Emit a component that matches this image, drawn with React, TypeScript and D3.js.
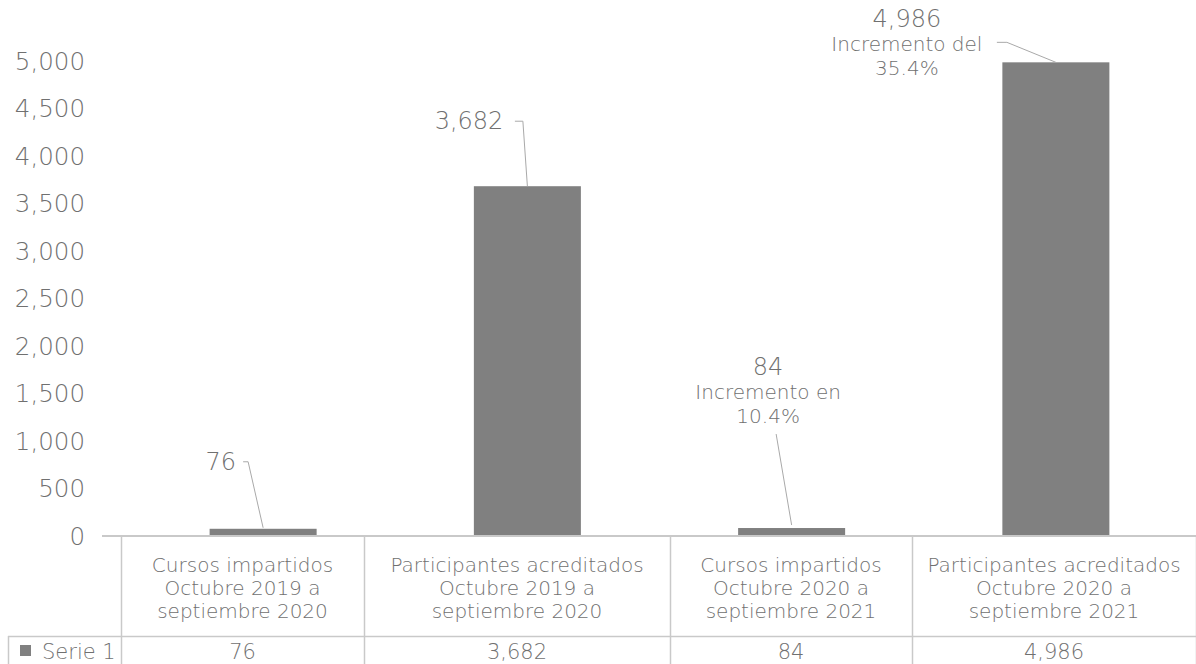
import React from "react";
import * as d3 from "d3";

const categories: string[][] = [
  ["Cursos impartidos", "Octubre 2019 a", "septiembre 2020"],
  ["Participantes acreditados", "Octubre 2019 a", "septiembre 2020"],
  ["Cursos impartidos", "Octubre 2020 a", "septiembre 2021"],
  ["Participantes acreditados", "Octubre 2020 a", "septiembre 2021"],
];
const categoryKeys = ["c1", "c2", "c3", "c4"];
const seriesName = "Serie 1";
const seriesValues = [76, 3682, 84, 4986];
const annotations: string[][] = [[], [], ["Incremento en", "10.4%"], ["Incremento del", "35.4%"]];
const yTicks = [0, 500, 1000, 1500, 2000, 2500, 3000, 3500, 4000, 4500, 5000];

const W = 1196;
const H = 664;
const FONT = "'DejaVu Sans', sans-serif";
const TEXT = "#707070";
const BAR = "#808080";
const GRIDC = "#c9c9c9";
const LEADER = "#a9a9a9";

// label placement relative to bar top-centre (layout only)
const labelLayout = [
  { mode: "side", tx: -27, ty: -59, lead: [[-20, -67], [-15, -67], [0, -1]] },
  { mode: "side", tx: -24, ty: -57, lead: [[-12.5, -65], [-4.5, -65], [0, 0]] },
  { mode: "stack", tx: -23.5, ty: -153, lead: [[-15.5, -94], [0, -3]] },
  { mode: "stack", tx: -149, ty: -35, lead: [[-59, -20], [-49, -20], [0, 0]] },
];

// table column edges (layout)
const tableEdges = [121, 364, 670, 912, 1196];

export default function App() {
  const y = d3.scaleLinear().domain([0, 5000]).range([536, 61]);
  const x = d3.scaleBand<string>().domain(categoryKeys).range([131, 1188]).paddingInner(0.595).paddingOuter(0.2975);
  const fmt = d3.format(",");
  const base = y(0);
  const line = d3.line();

  return (
    <svg width={W} height={H} style={{ position: "absolute", left: 0, top: 0, background: "#fff" }} fontFamily={FONT}>
      {/* y tick labels */}
      {yTicks.map((t) => (
        <text key={t} x={85} y={y(t)} dy="0.36em" textAnchor="end" fontSize={24.5} fill={TEXT} fontWeight={300}>
          {fmt(t)}
        </text>
      ))}
      {/* bars */}
      {seriesValues.map((v, i) => (
        <rect key={i} x={x(categoryKeys[i])} y={y(v)} width={x.bandwidth()} height={base - y(v)} fill={BAR} />
      ))}
      {/* data labels with leader lines */}
      {seriesValues.map((v, i) => {
        const cx = (x(categoryKeys[i]) as number) + x.bandwidth() / 2;
        const ty = y(v);
        const L = labelLayout[i];
        const pts = L.lead.map(([dx, dy]) => [cx + dx, ty + dy] as [number, number]);
        return (
          <g key={i}>
            <path d={line(pts) as string} fill="none" stroke={LEADER} strokeWidth={1} />
            {L.mode === "side" ? (
              <text x={cx + L.tx} y={ty + L.ty} textAnchor="end" fontSize={24} fill={TEXT} fontWeight={300}>
                {fmt(v)}
              </text>
            ) : (
              <g>
                <text x={cx + L.tx} y={ty + L.ty} textAnchor="middle" fontSize={24} fill={TEXT} fontWeight={300}>
                  {fmt(v)}
                </text>
                {annotations[i].map((s, k) => (
                  <text key={k} x={cx + L.tx} y={ty + L.ty + 24 + k * 24} textAnchor="middle" fontSize={20} fill={TEXT} fontWeight={300}>
                    {s}
                  </text>
                ))}
              </g>
            )}
          </g>
        );
      })}
      {/* axis line */}
      <line x1={102} x2={W} y1={base} y2={base} stroke={GRIDC} strokeWidth={2} />
      {/* data table */}
      <line x1={8} x2={W} y1={636.5} y2={636.5} stroke={GRIDC} strokeWidth={1.5} />
      <line x1={8.5} x2={8.5} y1={636} y2={H} stroke={GRIDC} strokeWidth={1.5} />
      {tableEdges.map((e, i) => (
        <line key={i} x1={e + 0.5} x2={e + 0.5} y1={base} y2={H} stroke={GRIDC} strokeWidth={1.5} />
      ))}
      {categories.map((lines, i) => {
        const cx = (tableEdges[i] + tableEdges[i + 1]) / 2;
        return (
          <g key={i}>
            {lines.map((s, k) => (
              <text key={k} x={cx} y={572 + k * 23} textAnchor="middle" fontSize={20} fill={TEXT} fontWeight={300}>
                {s}
              </text>
            ))}
            <text x={cx} y={659} textAnchor="middle" fontSize={21} fill={TEXT} fontWeight={300}>
              {fmt(seriesValues[i])}
            </text>
          </g>
        );
      })}
      {/* legend key */}
      <rect x={20} y={645} width={11} height={11} fill={BAR} />
      <text x={42} y={659} fontSize={21} fill={TEXT} fontWeight={300}>
        {seriesName}
      </text>
    </svg>
  );
}
